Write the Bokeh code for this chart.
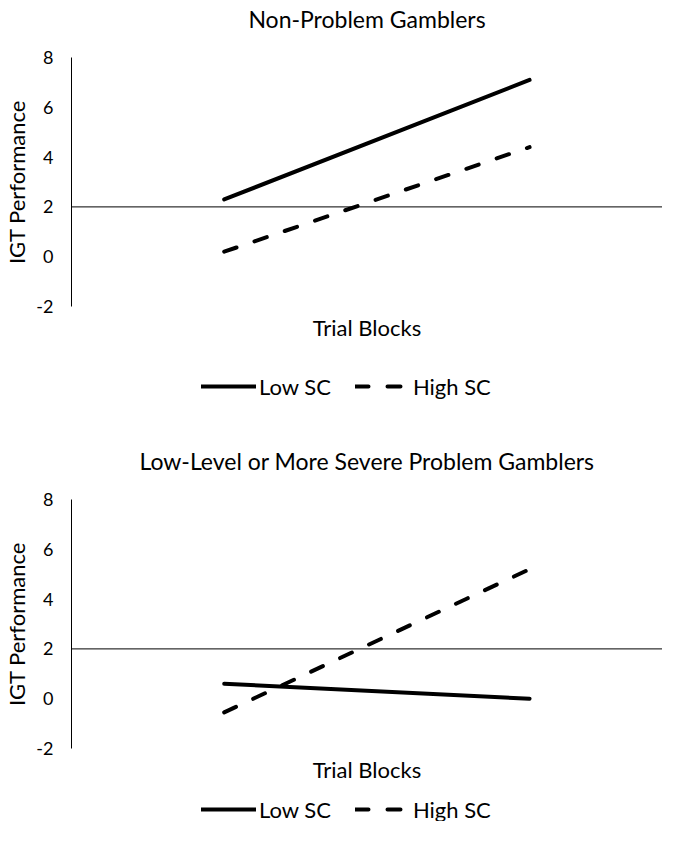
from bokeh.plotting import figure
from bokeh.models import Range1d, Span, Legend, LegendItem, FixedTicker, LinearAxis
from bokeh.layouts import column
from bokeh.embed import file_html
from bokeh.resources import INLINE

# ---- data ----
trial_blocks = [1, 2]
y_ticks = [-2, 0, 2, 4, 6, 8]
reference_level = 2
top_title = "Non-Problem Gamblers"
bottom_title = "Low-Level or More Severe Problem Gamblers"
y_title = "IGT Performance"
x_title = "Trial Blocks"
series_names = ["Low SC", "High SC"]
npg_low_sc = [2.3, 7.1]
npg_high_sc = [0.2, 4.4]
pg_low_sc = [0.6, 0.0]
pg_high_sc = [-0.55, 5.2]

# ---- layout constants ----
FONT = "Lato"
TXT = "#000000"
W = 662
BORDER_LEFT = 64
BORDER_TOP = 57
FRAME_H = 249
BORDER_BOTTOM = 45
PX_PER_X = 309.0     # pixels per trial block
SOLID = dict(line_color="black", line_width=4, line_cap="round")
DASHED = dict(line_color="black", line_width=4, line_cap="round", line_dash="13 19")


def x_range():
    return Range1d(0.5, 0.5 + (W - BORDER_LEFT) / PX_PER_X)


def make_chart(title, low, high):
    p = figure(width=W, height=BORDER_TOP + FRAME_H + BORDER_BOTTOM,
               output_backend="svg", toolbar_location=None,
               x_range=x_range(), y_range=Range1d(y_ticks[0], y_ticks[-1]),
               x_axis_location=None,
               min_border_left=BORDER_LEFT, min_border_right=0,
               min_border_top=BORDER_TOP, min_border_bottom=BORDER_BOTTOM)
    p.outline_line_color = None
    p.grid.visible = False
    p.background_fill_color = "white"
    p.border_fill_color = "white"

    # chart title as the label of an empty top axis
    p.add_layout(LinearAxis(ticker=FixedTicker(ticks=[]), axis_line_color=None,
                            major_tick_out=0, major_tick_in=0, minor_tick_out=0,
                            minor_tick_in=0, major_label_standoff=0, axis_label=title,
                            axis_label_standoff=25, axis_label_text_font=FONT,
                            axis_label_text_font_size="23px",
                            axis_label_text_font_style="normal",
                            axis_label_text_color=TXT), "above")

    # "Trial Blocks" as the label of an empty bottom axis
    p.add_layout(LinearAxis(ticker=FixedTicker(ticks=[]), axis_line_color=None,
                            major_tick_out=0, major_tick_in=0, minor_tick_out=0,
                            minor_tick_in=0, major_label_standoff=0, axis_label=x_title,
                            axis_label_standoff=7, axis_label_text_font=FONT,
                            axis_label_text_font_size="22px",
                            axis_label_text_font_style="normal",
                            axis_label_text_color=TXT), "below")

    ya = p.yaxis[0]
    ya.ticker = FixedTicker(ticks=y_ticks)
    ya.major_label_overrides = {t: str(t) for t in y_ticks}
    ya.major_tick_line_color = None
    ya.minor_tick_line_color = None
    ya.major_tick_out = 0
    ya.major_tick_in = 0
    ya.major_label_standoff = 18
    ya.major_label_text_font = FONT
    ya.major_label_text_font_size = "18px"
    ya.major_label_text_color = TXT
    ya.axis_line_color = "black"
    ya.axis_line_width = 1
    ya.axis_label = y_title
    ya.axis_label_text_font = FONT
    ya.axis_label_text_font_size = "22px"
    ya.axis_label_text_font_style = "normal"
    ya.axis_label_text_color = TXT
    ya.axis_label_standoff = 3

    p.add_layout(Span(location=reference_level, dimension="width",
                      line_color="black", line_width=1))

    p.line(trial_blocks, low, **SOLID)
    p.line(trial_blocks, high, **DASHED)
    return p


def make_legend(low, high, height, vy):
    f = figure(width=W, height=height, output_backend="svg", toolbar_location=None,
               x_range=x_range(), y_range=Range1d(y_ticks[0], y_ticks[-1]),
               x_axis_location=None, y_axis_location=None,
               min_border_left=BORDER_LEFT, min_border_right=0,
               min_border_top=0, min_border_bottom=0)
    f.outline_line_color = None
    f.grid.visible = False
    f.background_fill_color = "white"
    f.border_fill_color = "white"
    r_low = f.line(trial_blocks, low, visible=False, **SOLID)
    r_high = f.line(trial_blocks, high, visible=False, **DASHED)
    legend = Legend(items=[LegendItem(label=series_names[0], renderers=[r_low]),
                           LegendItem(label=series_names[1], renderers=[r_high])],
                    orientation="horizontal", location=(130, vy),
                    glyph_width=55, glyph_height=28, label_height=28,
                    label_standoff=3, spacing=24, padding=0, margin=0,
                    border_line_color=None, background_fill_alpha=0,
                    inactive_fill_alpha=0,
                    label_text_font=FONT, label_text_font_size="22px",
                    label_text_color=TXT)
    f.add_layout(legend)
    return f


p1 = make_chart(top_title, npg_low_sc, npg_high_sc)
l1 = make_legend(npg_low_sc, npg_high_sc, 91, 42)
p2 = make_chart(bottom_title, pg_low_sc, pg_high_sc)
l2 = make_legend(pg_low_sc, pg_high_sc, 28, -2)

layout = column(p1, l1, p2, l2, spacing=0)
open("out.html", "w").write(file_html(layout, INLINE))
